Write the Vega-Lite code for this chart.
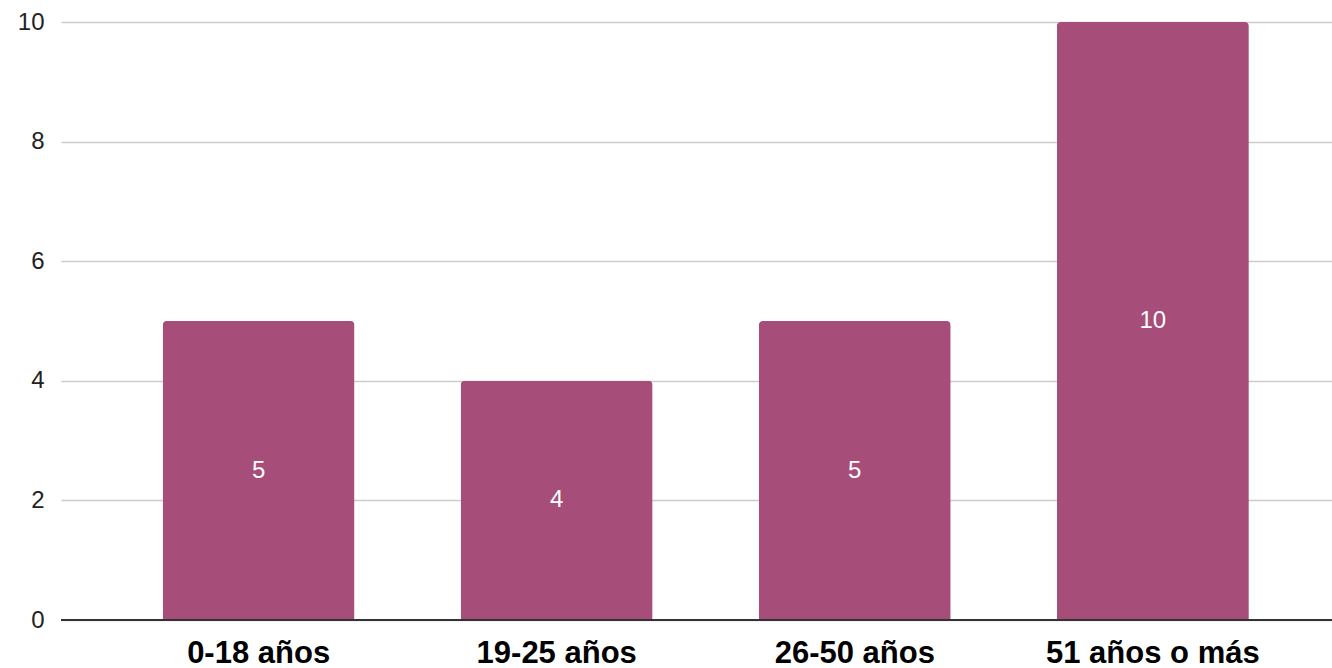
{
  "$schema": "https://vega.github.io/schema/vega-lite/v6.json",
  "width": 1271,
  "height": 598,
  "autosize": {"type": "none"},
  "padding": {"left": 61, "top": 22, "right": 0, "bottom": 48},
  "background": "white",
  "config": {"view": {"stroke": null}, "font": "Liberation Sans"},
  "data": {
    "values": [
      {"grupo": "0-18 años", "valor": 5},
      {"grupo": "19-25 años", "valor": 4},
      {"grupo": "26-50 años", "valor": 5},
      {"grupo": "51 años o más", "valor": 10}
    ]
  },
  "resolve": {"scale": {"y": "independent"}},
  "layer": [
    {
      "mark": {"type": "bar", "color": "#a64d79", "cornerRadiusTopLeft": 4, "cornerRadiusTopRight": 4},
      "encoding": {
        "x": {
          "field": "grupo",
          "type": "nominal",
          "sort": null,
          "scale": {"paddingInner": 0.356, "paddingOuter": 0.31, "align": 0.55},
          "axis": {
            "title": null,
            "labelAngle": 0,
            "labelFont": "Liberation Sans",
            "labelFontSize": 31,
            "labelFontWeight": "bold",
            "labelColor": "#000000",
            "labelPadding": 18,
            "labelLimit": 500,
            "ticks": false,
            "domain": false
          }
        },
        "y": {
          "field": "valor",
          "type": "quantitative",
          "scale": {"domain": [0, 10], "nice": false},
          "axis": {
            "title": null,
            "values": [0, 2, 4, 6, 8, 10],
            "labelFont": "Liberation Sans",
            "labelFontSize": 24,
            "labelColor": "#222222",
            "labelPadding": 17,
            "ticks": false,
            "domain": false,
            "gridColor": "#cccccc",
            "gridWidth": 1.5
          }
        }
      }
    },
    {
      "mark": {"type": "rule", "color": "#333333", "strokeWidth": 2},
      "encoding": {"y": {"datum": 0, "scale": {"domain": [0, 10], "nice": false}, "axis": null}}
    },
    {
      "mark": {"type": "text", "color": "#ffffff", "fontSize": 24, "font": "Liberation Sans", "baseline": "middle"},
      "encoding": {
        "x": {"field": "grupo", "type": "nominal", "sort": null},
        "y": {"field": "valor", "type": "quantitative", "scale": {"domain": [0, 20], "nice": false}, "axis": null},
        "text": {"field": "valor", "type": "quantitative"}
      }
    }
  ]
}
